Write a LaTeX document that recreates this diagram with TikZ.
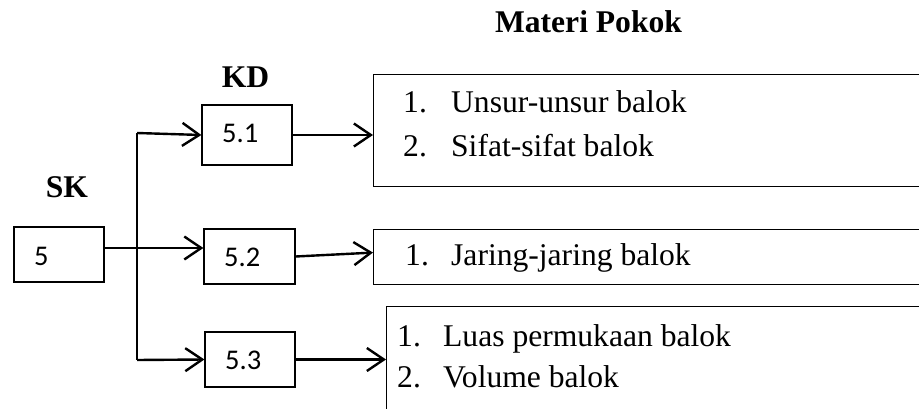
\documentclass[tikz,border=0pt]{standalone}
\usepackage{fontspec}
\setmainfont{Liberation Serif}
\newfontfamily\calfont{Carlito}
\usetikzlibrary{arrows.meta}
\begin{document}
\begin{tikzpicture}[x=1pt,y=-1pt,
  lab/.style={inner sep=0pt,font=\fontsize{31.6}{38}\selectfont\bfseries},
  item/.style={inner sep=0pt,font=\fontsize{31.6}{38}\selectfont},
  kbox/.style={draw,line width=1.2pt,inner sep=0pt,minimum width=90pt,minimum height=55pt},
  kdtxt/.style={inner sep=0pt,anchor=base west,font=\calfont\fontsize{28.5}{34}\selectfont},
  mbox/.style={draw,line width=1.2pt,inner sep=0pt,anchor=north west},
  conn/.style={line width=2.4pt,-{Straight Barb[length=17pt,width=23pt]}},
  plain/.style={line width=2.4pt}]
\useasboundingbox (0,0) rectangle (919,409);
\clip (0,0) rectangle (919,409);
\fill[white] (0,0) rectangle (919,409);

% headings
\node[lab,anchor=base] (sk) at (67,198) {SK};
\node[lab,anchor=base] (kd) at (245.5,88) {KD};
\node[lab,anchor=base] (mp) at (588.5,33) {Materi Pokok};

% SK / KD boxes
\node[kbox] (b5) at (59,254.5) {};
\node[kdtxt] (t5) at (34,265.5) {5};
\node[kbox,minimum height=60pt] (b51) at (247,135) {};
\node[kdtxt] (t51) at (222,142.5) {5.1};
\node[kbox,minimum width=91pt] (b52) at (249.5,256.5) {};
\node[kdtxt] (t52) at (224,266.5) {5.2};
\node[kbox] (b53) at (250,359.5) {};
\node[kdtxt] (t53) at (225,369.5) {5.3};

% Materi Pokok boxes
\node[mbox,minimum width=560pt,minimum height=112pt] (mp1) at (373,74) {};
\node[mbox,minimum width=560pt,minimum height=55pt] (mp2) at (373,229) {};
\node[mbox,minimum width=560pt,minimum height=120pt] (mp3) at (386,306) {};

\node[item,anchor=base west] (i11) at (403,113) {\makebox[48pt][l]{1.}Unsur-unsur balok};
\node[item,anchor=base west] (i12) at (403,157) {\makebox[48pt][l]{2.}Sifat-sifat balok};
\node[item,anchor=base west] (i21) at (405,265) {\makebox[46pt][l]{1.}Jaring-jaring balok};
\node[item,anchor=base west] (i31) at (397,346) {\makebox[46pt][l]{1.}Luas permukaan balok};
\node[item,anchor=base west] (i32) at (397,387) {\makebox[46pt][l]{2.}Volume balok};

% connectors
\coordinate (jt) at (137,133);
\coordinate (jb) at (137,360);
\draw[plain,line cap=butt] (jt) -- (jb);
\draw[conn] (jt) -- (b51.west);
\draw[conn] (jb) -- (b53.west);
\draw[conn] ([yshift=6.5pt]b5.east) -- ([yshift=8.5pt]b52.west);
\draw[conn] (b51.east) -- (mp1.west |- b51.east);
\draw[conn] (b52.east) -- ([yshift=4.5pt]mp2.west);
\draw[conn] (b53.east) -- (mp3.west |- b53.east);
\end{tikzpicture}
\end{document}
